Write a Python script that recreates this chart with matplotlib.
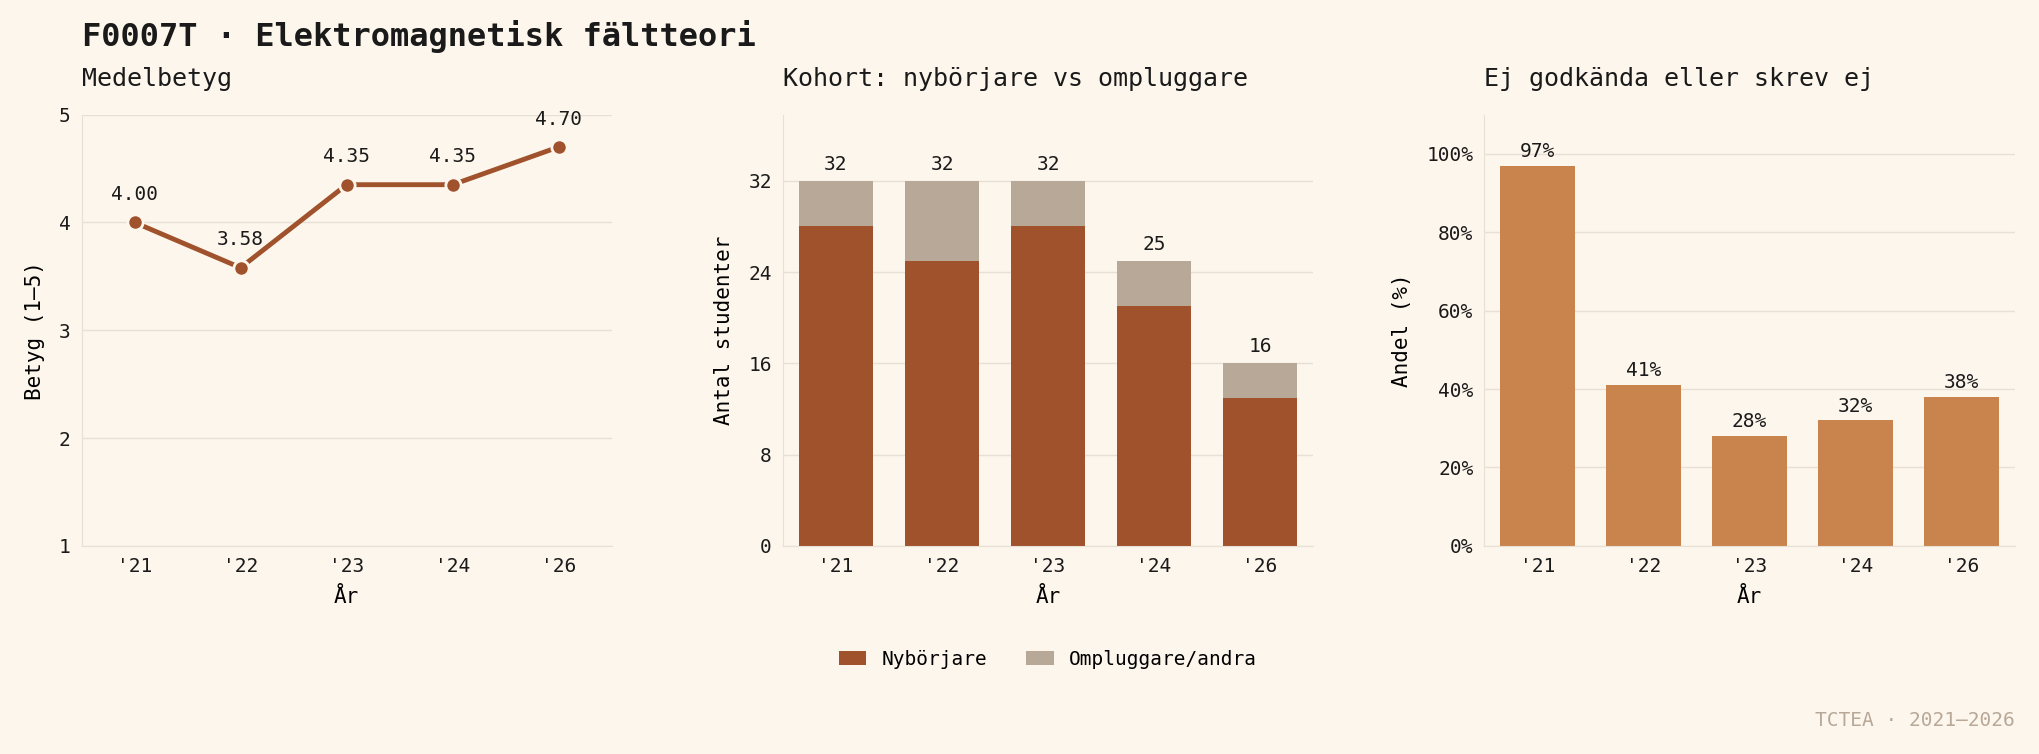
import matplotlib
matplotlib.use("Agg")
import matplotlib.pyplot as plt
import numpy as np

years = ["'21", "'22", "'23", "'24", "'26"]
grade = [4.00, 3.58, 4.35, 4.35, 4.70]
new_students = [28, 25, 28, 21, 13]
re_students = [4, 7, 4, 4, 3]
fail_pct = [97, 41, 28, 32, 38]

BG = "#fdf6ec"; DARK = "#a0522d"; GRAY = "#b8a898"; ORANGE = "#c8844c"
TXT = "#1a1a1a"; GRID = "#e8e0d4"
plt.rcParams['font.family'] = ['DejaVu Sans Mono']

fig = plt.figure(figsize=(20.39, 7.54), dpi=100, facecolor=BG)
W, H = 0.260, 0.572
axs = [fig.add_axes([l, 0.276, W, H]) for l in (0.040, 0.384, 0.728)]
for ax in axs:
    ax.set_facecolor(BG)
    for s in ("top", "right"):
        ax.spines[s].set_visible(False)
    for s in ("left", "bottom"):
        ax.spines[s].set_color(GRID)
    ax.grid(axis="y", color=GRID, lw=1)
    ax.set_axisbelow(True)
    ax.tick_params(length=0, labelsize=14, colors=TXT, pad=8)

x = np.arange(len(years))
ax = axs[0]
ax.plot(x, grade, color=DARK, lw=3.5, marker="o", ms=11, mec=BG, mew=2)
for xi, v in zip(x, grade):
    ax.annotate(f"{v:.2f}", (xi, v), xytext=(0, 16), textcoords="offset points", ha="center", fontsize=14, color=TXT)
ax.set_ylim(1, 5); ax.set_yticks([1, 2, 3, 4, 5]); ax.set_xlim(-0.5, 4.5)
ax.set_xticks(x, years); ax.set_ylabel("Betyg (1–5)", fontsize=15, labelpad=10); ax.set_xlabel("År", fontsize=15, labelpad=8)

ax = axs[1]
ax.bar(x, new_students, width=0.7, color=DARK, label="Nybörjare")
ax.bar(x, re_students, width=0.7, bottom=new_students, color=GRAY, label="Ompluggare/andra")
for xi, a, b in zip(x, new_students, re_students):
    ax.text(xi, a + b + 0.6, f"{a+b}", ha="center", va="bottom", fontsize=14, color=TXT)
ax.set_ylim(0, 37.8); ax.set_yticks([0, 8, 16, 24, 32]); ax.set_xlim(-0.5, 4.5)
ax.set_xticks(x, years); ax.set_ylabel("Antal studenter", fontsize=15, labelpad=10); ax.set_xlabel("År", fontsize=15, labelpad=8)
ax.legend(loc="upper center", bbox_to_anchor=(0.5, -0.2), ncol=2, frameon=False, fontsize=14, handlelength=1.4, columnspacing=2)

ax = axs[2]
ax.bar(x, fail_pct, width=0.7, color=ORANGE)
for xi, v in zip(x, fail_pct):
    ax.text(xi, v + 1.2, f"{v}%", ha="center", va="bottom", fontsize=14, color=TXT)
ax.set_ylim(0, 110); ax.set_yticks(range(0, 101, 20), [f"{t}%" for t in range(0, 101, 20)]); ax.set_xlim(-0.5, 4.5)
ax.set_xticks(x, years); ax.set_ylabel("Andel (%)", fontsize=15, labelpad=10); ax.set_xlabel("År", fontsize=15, labelpad=8)

for ax, t in zip(axs, ["Medelbetyg", "Kohort: nybörjare vs ompluggare", "Ej godkända eller skrev ej"]):
    ax.text(0, 1.055, t, transform=ax.transAxes, fontsize=18, color=TXT, va="bottom")

fig.text(0.040, 0.952, "F0007T · Elektromagnetisk fältteori", fontsize=23, fontweight="bold", color=TXT, va="center")
fig.text(0.988, 0.045, "TCTEA · 2021–2026", fontsize=14, color=GRAY, ha="right", va="center")
fig.savefig("out.png", dpi=100, facecolor=BG)
